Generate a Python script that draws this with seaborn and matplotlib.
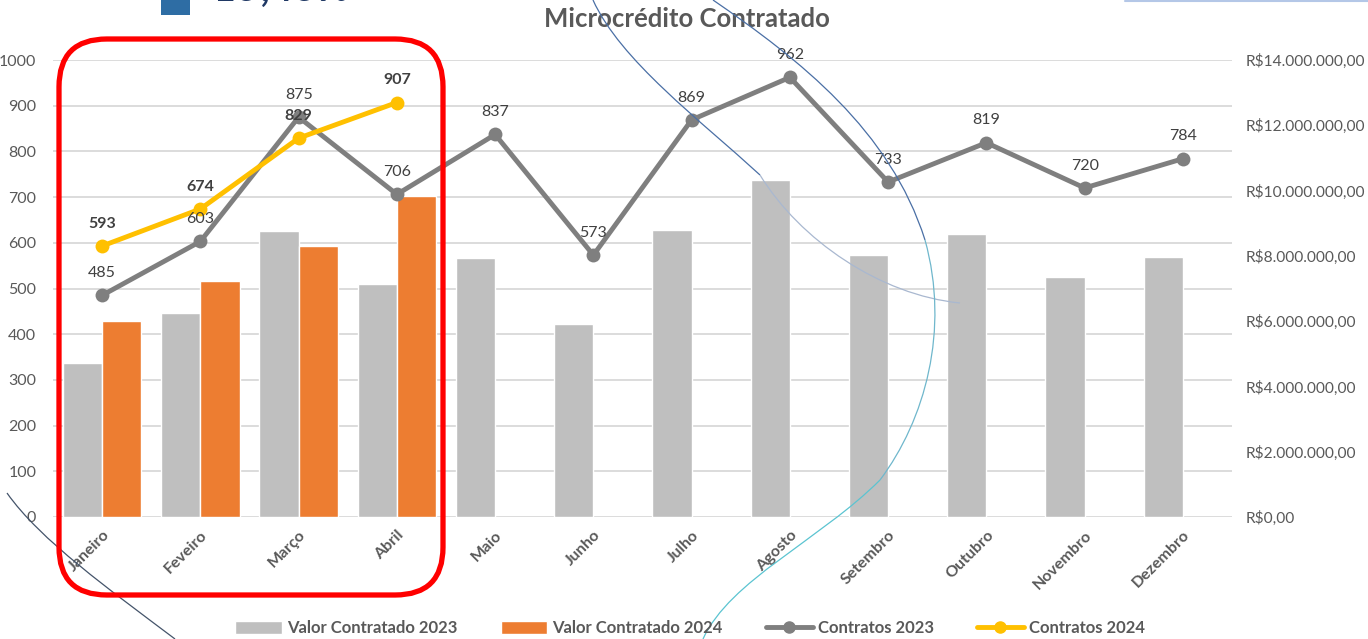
import numpy as np
import pandas as pd
import matplotlib
matplotlib.use('Agg')
import matplotlib.pyplot as plt
import seaborn as sns
from matplotlib.ticker import MultipleLocator, FuncFormatter
from matplotlib.patches import Patch, FancyBboxPatch, PathPatch, Rectangle
from matplotlib.lines import Line2D
from matplotlib.path import Path

sns.set_style('white')
plt.rcParams['font.family'] = ['Lato', 'DejaVu Sans']

# data
meses = ['Janeiro', 'Feveiro', 'Março', 'Abril', 'Maio', 'Junho', 'Julho',
         'Agosto', 'Setembro', 'Outubro', 'Novembro', 'Dezembro']
valor_2023 = [4.72e6, 6.26e6, 8.76e6, 7.15e6, 7.94e6, 5.90e6, 8.80e6,
              10.32e6, 8.02e6, 8.68e6, 7.35e6, 7.97e6]
valor_2024 = [6.01e6, 7.24e6, 8.29e6, 9.82e6]
contratos_2023 = [485, 603, 875, 706, 837, 573, 869, 962, 733, 819, 720, 784]
contratos_2024 = [593, 674, 829, 907]

cinza = '#BFBFBF'
laranja = '#ED7D31'
cinza_linha = '#7F7F7F'
amarelo = '#FFC000'
texto = '#595959'

df_valor = pd.concat([
    pd.DataFrame({'mes': meses, 'valor': valor_2023, 'ano': '2023'}),
    pd.DataFrame({'mes': meses[:len(valor_2024)], 'valor': valor_2024, 'ano': '2024'}),
])

W, H = 1368, 639
fig = plt.figure(figsize=(W / 100, H / 100), dpi=100)
ax = fig.add_axes([53 / W, 1 - 517 / H, (1232 - 53) / W, (517 - 60) / H])

# bars (R$ scale, right side labels)
sns.barplot(data=df_valor, x='mes', y='valor', hue='ano', order=meses,
            hue_order=['2023', '2024'], palette=[cinza, laranja],
            saturation=1, errorbar=None, width=0.8, legend=False, ax=ax,
            zorder=2)
ax.set_xlabel('')
ax.set_ylabel('')

# lines (contracts, left side labels)
ax2 = ax.twinx()
x23 = np.arange(len(contratos_2023))
x24 = np.arange(len(contratos_2024))
sns.lineplot(x=x23, y=contratos_2023, ax=ax2, color=cinza_linha, linewidth=3.5,
             marker='o', markersize=10, markeredgewidth=0)
sns.lineplot(x=x24, y=contratos_2024, ax=ax2, color=amarelo, linewidth=3.5,
             marker='o', markersize=10, markeredgewidth=0)

# twinx moves the first axis to the left, so swap the sides afterwards
ax.yaxis.tick_right()
ax.yaxis.set_label_position('right')
ax2.yaxis.tick_left()
ax2.yaxis.set_label_position('left')

ax.set_ylim(0, 14e6)
ax.set_xlim(-0.5, 11.5)
ax.yaxis.set_major_locator(MultipleLocator(2e6))
ax.yaxis.set_major_formatter(FuncFormatter(
    lambda v, p: 'R$' + f'{v:,.2f}'.replace(',', 'X').replace('.', ',').replace('X', '.')))
ax.yaxis.set_minor_locator(MultipleLocator(1.4e6))
ax.yaxis.remove_overlapping_locs = False
ax.grid(False)
ax.grid(which='minor', axis='y', color='#D9D9D9', linewidth=1.3, zorder=0)
ax.set_axisbelow(True)
ax.tick_params(axis='y', which='both', length=0, pad=10, labelsize=11.2,
               labelcolor=texto, left=False, labelleft=False, right=True, labelright=True)
ax.tick_params(axis='y', which='minor', labelright=False)
ax.tick_params(axis='x', length=0, pad=8, labelsize=11.5, labelcolor=texto)
ax.set_xticks(range(len(meses)))
ax.set_xticklabels(meses, rotation=45, ha='right', rotation_mode='anchor', fontweight='bold')
for s in ax.spines.values():
    s.set_visible(False)

ax2.set_ylim(0, 1000)
ax2.set_xlim(-0.5, 11.5)
ax2.yaxis.set_major_locator(MultipleLocator(100))
ax2.tick_params(axis='y', length=0, pad=12, labelsize=11.5, labelcolor=texto,
                right=False, labelright=False, left=True, labelleft=True)
ax2.grid(False)
for s in ax2.spines.values():
    s.set_visible(False)

for xi, v in zip(x23, contratos_2023):
    ax2.annotate(str(v), (xi, v), xytext=(0, 16), textcoords='offset points',
                 ha='center', va='center', fontsize=11.5, color='#404040')
for xi, v in zip(x24, contratos_2024):
    ax2.annotate(str(v), (xi, v), xytext=(0, 16), textcoords='offset points',
                 ha='center', va='center', fontsize=11.5, color='#404040',
                 fontweight='bold')

fig.text(687 / W, 1 - 19 / H, 'Microcrédito Contratado', ha='center', va='center',
         fontsize=18.5, fontweight='bold', color=texto)

handles = [
    Patch(facecolor=cinza, label='Valor Contratado 2023'),
    Patch(facecolor=laranja, label='Valor Contratado 2024'),
    Line2D([], [], color=cinza_linha, lw=3.5, marker='o', ms=8, label='Contratos 2023'),
    Line2D([], [], color=amarelo, lw=3.5, marker='o', ms=8, label='Contratos 2024'),
]
fig.legend(handles=handles, loc='center', bbox_to_anchor=(690 / W, 1 - 628 / H),
           ncol=4, frameon=False, handlelength=2.8, handleheight=0.8,
           handletextpad=0.3, columnspacing=2.6, labelcolor=texto,
           prop={'weight': 'bold', 'size': 12})

# slide decorations around the chart
def px(x, y):
    return (x / W, 1 - y / H)

fig.add_artist(FancyBboxPatch(px(59, 595), 384 / W, 556 / H,
                              boxstyle='round,pad=0,rounding_size=0.035',
                              transform=fig.transFigure, fill=False,
                              edgecolor='#FF0000', linewidth=3.8, zorder=5,
                              mutation_aspect=W / H))
fig.add_artist(Rectangle(px(161, 15), 29 / W, 15 / H, transform=fig.transFigure,
                         facecolor='#2E6DA4', edgecolor='none', zorder=5))
fig.text(213 / W, 1 - 8 / H, '15,45%', ha='left', va='bottom', fontsize=30,
         fontweight='bold', fontstyle='italic', color='#1F3864')
fig.add_artist(Line2D([1125 / W, 1], [1 - 1 / H, 1 - 1 / H], transform=fig.transFigure,
                      color='#B4C7E7', lw=1.5))

curvas = [
    ([(7, 493), (40, 540), (110, 590), (175, 639)], '#44546A', 0.9),
    ([(593, 0), (620, 60), (700, 120), (760, 175)], '#4A6FA5', 0.9),
    ([(760, 175), (800, 240), (880, 295), (960, 303)], '#A9B8D0', 0.9),
    ([(713, 0), (800, 60), (890, 130), (925, 240)], '#4A6FA5', 0.9),
    ([(925, 240), (950, 330), (925, 420), (880, 480)], '#6FB7CC', 0.9),
    ([(880, 480), (820, 540), (730, 580), (703, 639)], '#5BC4D1', 0.9),
]
for pts, cor, lw in curvas:
    path = Path([px(*p) for p in pts], [Path.MOVETO, Path.CURVE4, Path.CURVE4, Path.CURVE4])
    fig.add_artist(PathPatch(path, transform=fig.transFigure, fill=False,
                             edgecolor=cor, linewidth=lw, zorder=4))

fig.savefig('out.png', dpi=100, facecolor='white')
